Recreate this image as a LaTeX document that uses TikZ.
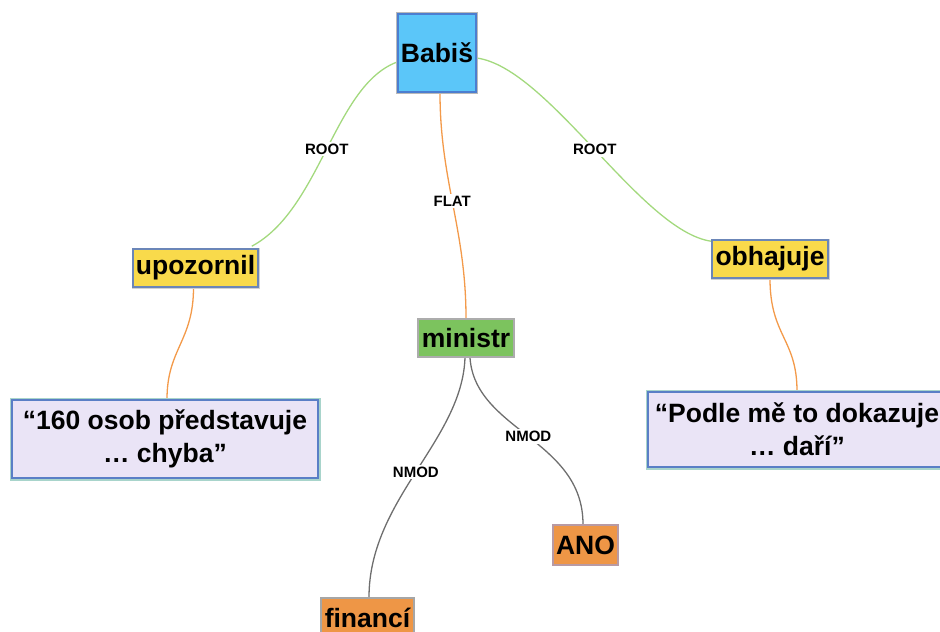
\documentclass[tikz,border=0pt]{standalone}
\usepackage{fontspec}
\setmainfont{Liberation Sans}
\usetikzlibrary{calc,backgrounds}

\definecolor{skyfill}{HTML}{5BC6F9}
\definecolor{skyline}{HTML}{4C7ED0}
\definecolor{yelfill}{HTML}{F9DA4B}
\definecolor{yelline}{HTML}{6B86B8}
\definecolor{grnfill}{HTML}{7CC35E}
\definecolor{orgfill}{HTML}{EE9646}
\definecolor{anoline}{HTML}{B89AA4}
\definecolor{lavfill}{HTML}{EAE4F6}
\definecolor{lavline}{HTML}{5A7FC6}
\definecolor{lavglow}{HTML}{A8D4CB}
\definecolor{rootedge}{HTML}{A3D97E}
\definecolor{flatedge}{HTML}{F39A4A}
\definecolor{nmodedge}{HTML}{6E6E6E}

\tikzset{
  word/.style={rectangle, inner sep=0pt, font=\fontsize{26.5}{30}\selectfont\bfseries, text=black},
  rootbox/.style={word, fill=skyfill, draw=skyline, line width=1.5pt,
    preaction={draw=gray!55, line width=3.5pt}},
  verbbox/.style={word, fill=yelfill, draw=yelline, line width=1.5pt,
    preaction={draw=gray!35, line width=3pt}},
  nounbox/.style={word, fill=grnfill, draw=gray!65, line width=1.5pt},
  modbox/.style={word, fill=orgfill, draw=gray!70, line width=1.5pt},
  quotebox/.style={word, fill=lavfill, draw=lavline, line width=1.8pt, align=center,
    font=\fontsize{26.5}{33}\selectfont\bfseries,
    preaction={draw=lavglow, line width=5pt}},
  rel/.style={line width=1.3pt},
  rootrel/.style={rel, draw=rootedge},
  flatrel/.style={rel, draw=flatedge},
  nmodrel/.style={rel, draw=nmodedge},
  lbl/.style={fill=white, inner sep=2pt, text=black,
    font=\fontsize{15}{17}\selectfont\bfseries}
}

\begin{document}
\begin{tikzpicture}[x=1pt, y=-1pt]
\useasboundingbox (0,0) rectangle (940,632);
\clip (0,0) rectangle (940,632);

% word boxes
\node[rootbox, minimum width=78pt, minimum height=78pt] (babis) at (437,53) {Babiš};
\node[verbbox, minimum width=125pt, minimum height=38pt] (upoz) at (195.5,268) {upozornil};
\node[verbbox, minimum width=116pt, minimum height=38pt] (obh) at (770,259) {obhajuje};
\node[nounbox, minimum width=96pt, minimum height=38pt] (min) at (466,338) {ministr};
\node[quotebox, minimum width=306pt, minimum height=78pt] (q1) at (165,439)
  {“160 osob představuje\\… chyba”};
\node[quotebox, minimum width=298pt, minimum height=75pt] (q2) at (797,429.5)
  {“Podle mě to dokazuje\\… daří”};
\node[modbox, draw=anoline, minimum width=65pt, minimum height=40pt] (ano) at (585.5,545) {ANO};
\node[modbox, minimum width=93pt, minimum height=40pt] (fin) at (367.5,618) {financí};

% dependency arcs, behind the boxes
\begin{scope}[on background layer]
\path[rootrel] ($(babis.west)+(0,9)$) .. controls +(-63,23) and +(69,-37) .. ($(upoz.north east)+(-7,-2)$)
  node[lbl, pos=0.5] {ROOT};
\path[rootrel] ($(babis.east)+(0,5)$) .. controls +(72,10) and +(-70,-10) .. ($(obh.north west)+(0,2)$)
  node[lbl, pos=0.5] {ROOT};
\path[flatrel] ($(babis.south)+(3,0)$) .. controls +(0,88) and +(0,-89) .. (min.north)
  node[lbl, pos=0.48] {FLAT};
\path[flatrel] ($(upoz.south)+(-2,0)$) .. controls +(0,53) and +(0,-50) .. ($(q1.north)+(2,0)$);
\path[flatrel] (obh.south) .. controls +(0,57) and +(0,-52) .. (q2.north);
\path[nmodrel] ($(min.south)+(-1,0)$) .. controls +(-3,83) and +(0,-98) .. ($(fin.north)+(1.5,0)$)
  node[lbl, pos=0.5] {NMOD};
\path[nmodrel] ($(min.south)+(4,0)$) .. controls +(5,73) and +(0,-85) .. ($(ano.north)+(-2.5,0)$)
  node[lbl, pos=0.5] {NMOD};
\end{scope}
\end{tikzpicture}
\end{document}
